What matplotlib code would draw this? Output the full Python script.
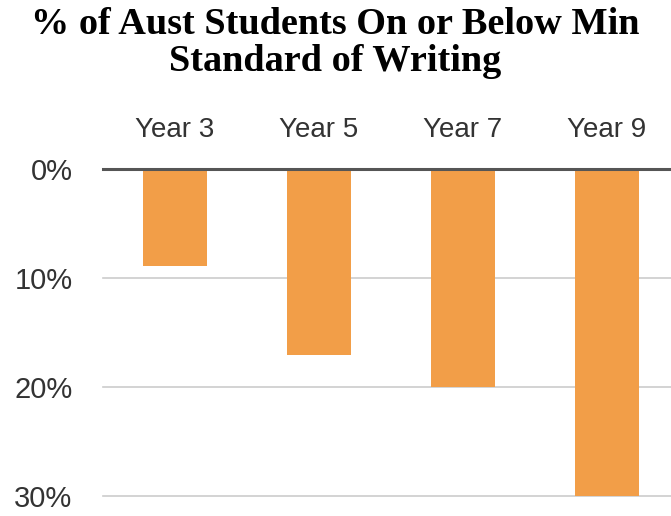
import matplotlib
matplotlib.use("Agg")
import matplotlib.pyplot as plt

years = ["Year 3", "Year 5", "Year 7", "Year 9"]
pct_below = [8.9, 17.1, 20.0, 30.0]
yticks = [0, 10, 20, 30]

fig = plt.figure(figsize=(6.71, 5.16), dpi=100)
# axes: left edge at x=103px, 0% at y=169px, 30% at y=496px
ax = fig.add_axes([103 / 671, (516 - 496) / 516, 1 - 103 / 671, (496 - 169) / 516])
x = range(len(years))
ax.bar(x, pct_below, width=0.45, color="#F29E48", zorder=2)
ax.set_ylim(30, 0)
ax.set_xlim(-0.5, 3.5 - 8 / 144)

for y in yticks:
    if y == 0:
        ax.axhline(y, color="#555555", lw=2.2, zorder=3, clip_on=False)
    else:
        ax.axhline(y, color="#cccccc", lw=1.2, zorder=1, clip_on=False)

ax.set_yticks(yticks)
ax.set_yticklabels([f"{v}%" for v in yticks], fontsize=21, color="#333333",
                   family="Liberation Sans")
ax.tick_params(axis="y", length=0, pad=22)
ax.xaxis.tick_top()
ax.set_xticks(list(x))
ax.set_xticklabels(years, fontsize=20, color="#333333", family="Liberation Sans")
ax.tick_params(axis="x", length=0, pad=19)
for sp in ax.spines.values():
    sp.set_visible(False)

fig.text(0.5, 1 - 43 / 516, "% of Aust Students On or Below Min\nStandard of Writing",
         ha="center", va="center", fontsize=27.5, fontweight="bold",
         family="Liberation Serif", linespacing=1.08)

fig.savefig("out.png", dpi=100)
